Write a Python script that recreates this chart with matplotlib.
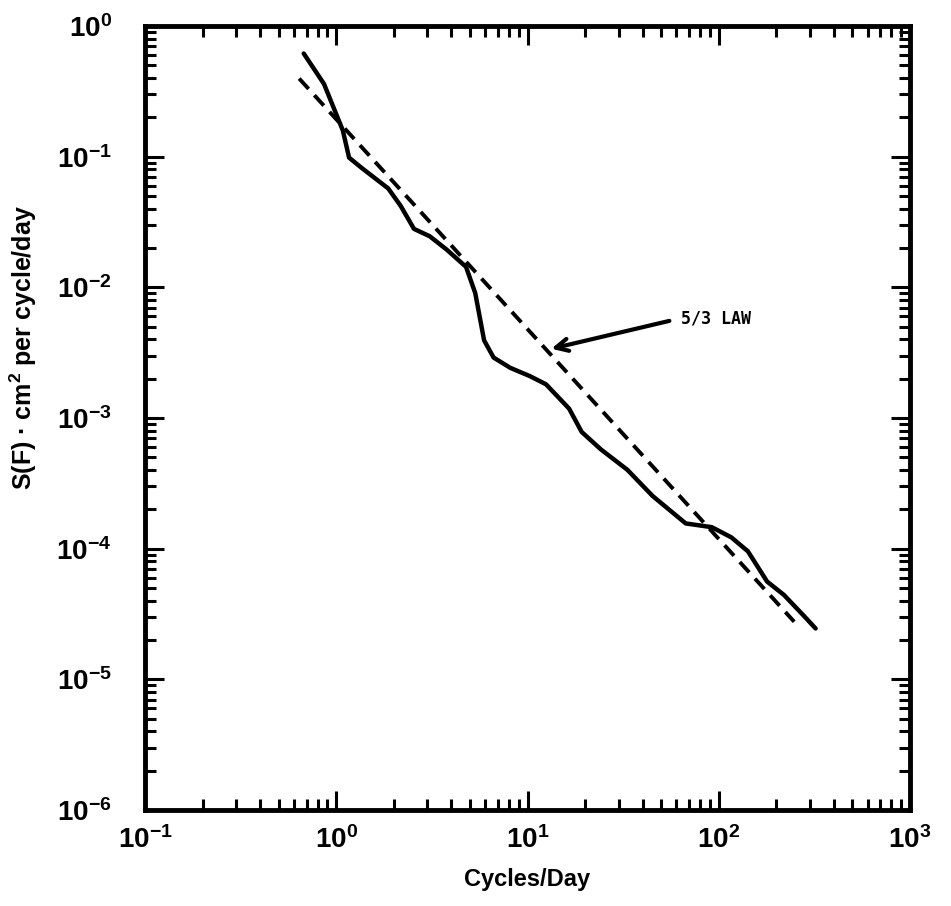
import matplotlib
matplotlib.use("Agg")
import matplotlib.pyplot as plt
from matplotlib.ticker import LogLocator, NullFormatter, FixedLocator, FixedFormatter

# Measured spectrum (solid curve)
freq = [0.676, 0.863, 1.082, 1.167, 1.358, 1.87, 2.17, 2.55, 3.08, 3.77, 4.77,
        5.33, 5.93, 6.65, 8.13, 10.3, 12.5, 16.5, 19.2, 24.2, 33.3, 45.1, 67.2,
        92.0, 116.4, 142.0, 179.0, 219.0, 277.0, 321.0]
spec = [0.616, 0.360, 0.159, 0.0983, 0.082, 0.0571, 0.0421, 0.0280, 0.0246,
        0.0195, 0.01435, 0.00904, 0.00393, 0.0029, 0.00242, 0.00209, 0.00181,
        0.00118, 0.000782, 0.000575, 0.000401, 0.000253, 0.000156, 0.000146,
        0.000122, 9.55e-5, 5.6e-5, 4.43e-5, 3.09e-5, 2.45e-5]

# 5/3 law reference line (dashed)
law_freq = [0.64, 248.0]
law_spec = [0.396, 2.76e-5]

# annotation
label_text = "5/3 LAW"
label_xy = (63.5, 0.0058)
arrow_tail = (57.0, 0.0056)
arrow_tip = (12.9, 0.00335)

xticks = [1e-1, 1e0, 1e1, 1e2, 1e3]
xticklabels = ["10$^{-1}$", "10$^{0}$", "10$^{1}$", "10$^{2}$", "10$^{3}$"]
yticks = [1e-6, 1e-5, 1e-4, 1e-3, 1e-2, 1e-1, 1e0]
yticklabels = ["10$^{-6}$", "10$^{-5}$", "10$^{-4}$", "10$^{-3}$", "10$^{-2}$",
               "10$^{-1}$", "10$^{0}$"]

plt.rcParams['font.family'] = ['Liberation Sans', 'DejaVu Sans']
plt.rcParams['mathtext.default'] = 'regular'

fig = plt.figure(figsize=(9.51, 9.06), dpi=100)
ax = fig.add_axes([145 / 951, 1 - 810 / 906, 765 / 951, 784 / 906])
ax.set_xscale('log')
ax.set_yscale('log')
ax.set_xlim(1e-1, 1e3)
ax.set_ylim(1e-6, 1e0)

ax.plot(freq, spec, color='black', lw=3.2, solid_capstyle='round',
        solid_joinstyle='round')
ax.plot(law_freq, law_spec, color='black', lw=2.8, linestyle=(0, (3.6, 2.2)))

ax.annotate("", xy=arrow_tip, xytext=arrow_tail,
            arrowprops=dict(arrowstyle='->', lw=3.0, color='black',
                            mutation_scale=22))
ax.text(label_xy[0], label_xy[1], label_text, fontsize=12, fontweight='bold',
        family='DejaVu Sans Mono', ha='left', va='center')

for s in ax.spines.values():
    s.set_linewidth(3.5)

ax.xaxis.set_major_locator(FixedLocator(xticks))
ax.xaxis.set_major_formatter(FixedFormatter(xticklabels))
ax.yaxis.set_major_locator(FixedLocator(yticks))
ax.yaxis.set_major_formatter(FixedFormatter(yticklabels))
ax.xaxis.set_minor_locator(LogLocator(base=10, subs=range(2, 10), numticks=20))
ax.yaxis.set_minor_locator(LogLocator(base=10, subs=range(2, 10), numticks=20))
ax.xaxis.set_minor_formatter(NullFormatter())
ax.yaxis.set_minor_formatter(NullFormatter())

ax.tick_params(which='both', direction='in', top=True, right=True, width=2.2)
ax.tick_params(which='major', length=14)
ax.tick_params(which='minor', length=8)
ax.tick_params(axis='y', which='major', pad=24)
ax.tick_params(axis='x', which='major', pad=12)
for lab in ax.get_xticklabels() + ax.get_yticklabels():
    lab.set_fontsize(20)
    lab.set_fontweight('bold')

ax.set_xlabel("Cycles/Day", fontsize=17, fontweight='bold', labelpad=10)
ax.set_ylabel("S(F) · cm$^2$ per cycle/day", fontsize=18, fontweight='bold')
ax.yaxis.set_label_coords(-0.138, 0.59)

fig.savefig("out.png", dpi=100)
